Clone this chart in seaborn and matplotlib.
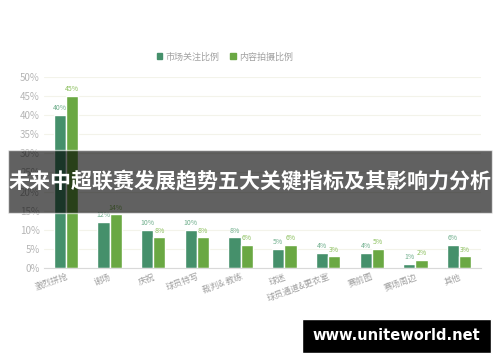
import matplotlib
matplotlib.use("Agg")
import matplotlib.pyplot as plt
import seaborn as sns
import pandas as pd
from matplotlib.patches import Rectangle

# --- DATA ---
categories = ["激烈拼抢", "谢场", "庆祝", "球员特写", "裁判& 教练", "球迷",
              "球员通道&更衣室", "赛前图", "赛场周边", "其他"]
market_attention = [40, 12, 10, 10, 8, 5, 4, 4, 1, 6]
content_shooting = [45, 14, 8, 8, 6, 6, 3, 5, 2, 3]
series_names = ["市场关注比例", "内容拍摄比例"]
y_ticks = [0, 5, 10, 15, 20, 25, 30, 35, 40, 45, 50]
banner_title = "未来中超联赛发展趋势五大关键指标及其影响力分析"
watermark = "www.uniteworld.net"

bar_colors = ["#45906b", "#6aa843"]
label_colors = ["#6fae8c", "#8cc05e"]

sns.set_theme(style="white")
plt.rcParams['font.family'] = ['Noto Sans CJK SC', 'DejaVu Sans']

df = pd.DataFrame({
    "category": categories * 2,
    "value": market_attention + content_shooting,
    "series": [series_names[0]] * len(categories) + [series_names[1]] * len(categories),
})

fig = plt.figure(figsize=(5, 3.62), dpi=100)
ax = fig.add_axes([0.088, 0.26, 0.874, 0.527])

sns.barplot(data=df, x="category", y="value", hue="series", palette=bar_colors,
            width=0.56, gap=0, ax=ax, legend=False, saturation=1)

for cont, col in zip(ax.containers, label_colors):
    ax.bar_label(cont, labels=[f"{int(v)}%" for v in cont.datavalues],
                 color=col, fontsize=5, padding=2)

ax.set_ylim(0, 50)
ax.set_yticks(y_ticks)
ax.set_yticklabels([f"{t}%" for t in y_ticks], color="#b5b5b5", fontsize=7)
ax.set_xticks(range(len(categories)))
ax.set_xticklabels(categories, rotation=20, ha="right", rotation_mode="anchor",
                   color="#a0a0a0", fontsize=6.2)
ax.tick_params(axis="both", length=0, pad=3)
ax.set_xlabel("")
ax.set_ylabel("")
ax.yaxis.grid(True, color="#f3f3ea", linewidth=0.8)
ax.set_axisbelow(True)
for s in ["top", "right", "left"]:
    ax.spines[s].set_visible(False)
ax.spines["bottom"].set_color("#d9d9d9")
ax.spines["bottom"].set_linewidth(0.8)
ax.set_xlim(-0.5, len(categories) - 0.5)

# legend at top
handles = [Rectangle((0, 0), 1, 1, color=c) for c in bar_colors]
fig.legend(handles, series_names, loc="center", bbox_to_anchor=(0.45, 0.843), ncol=2,
           frameon=False, fontsize=6.5, labelcolor="#a0a0a0", handlelength=0.6,
           handleheight=0.6, handletextpad=0.4, columnspacing=1.2)

# overlay banner
fig.patches.append(Rectangle((0.016, 0.412), 0.968, 0.174, transform=fig.transFigure,
                             facecolor="black", alpha=0.62, zorder=10))
fig.text(0.5, 0.499, banner_title, ha="center", va="center", color="white",
         fontsize=15.1, fontweight="bold", zorder=11)

# watermark
fig.patches.append(Rectangle((0.604, 0.025), 0.378, 0.094, transform=fig.transFigure,
                             facecolor="black", zorder=10))
fig.text(0.793, 0.072, watermark, ha="center", va="center", color="white",
         fontsize=10.5, fontweight="bold", family="DejaVu Sans", zorder=11)

fig.savefig("out.png", dpi=100)
